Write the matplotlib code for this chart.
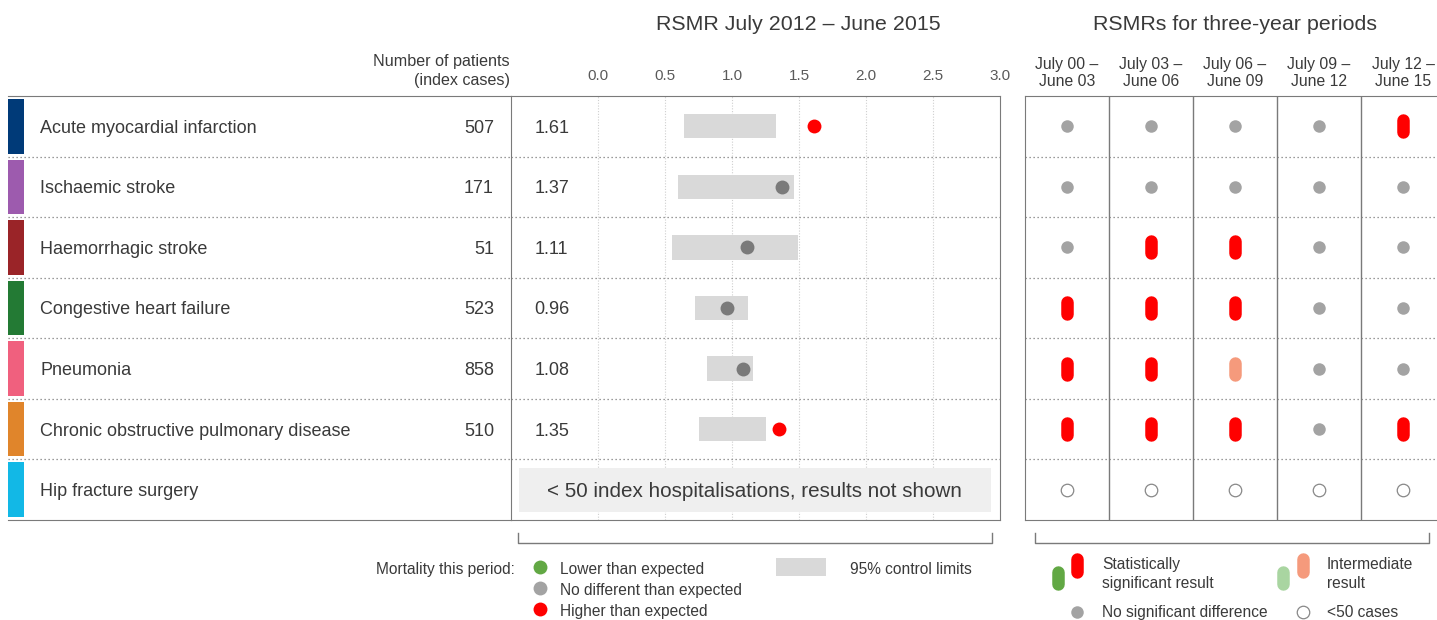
import numpy as np
import matplotlib.pyplot as plt

plt.rcParams['font.family'] = ['Liberation Sans', 'DejaVu Sans']

W, H = 1437, 620

conditions = ['Acute myocardial infarction', 'Ischaemic stroke', 'Haemorrhagic stroke',
              'Congestive heart failure', 'Pneumonia',
              'Chronic obstructive pulmonary disease', 'Hip fracture surgery']
cond_colors = ['#003a78', '#9d5bae', '#9a2428', '#237a34', '#f0607e', '#e0852b', '#12b8e6']
patients = [507, 171, 51, 523, 858, 510, None]
rsmr = [1.61, 1.37, 1.11, 0.96, 1.08, 1.35, None]
lower = [0.64, 0.60, 0.55, 0.72, 0.81, 0.75, None]
upper = [1.33, 1.46, 1.49, 1.12, 1.16, 1.25, None]
outcome = ['high', 'same', 'same', 'same', 'same', 'high', None]

ticks = [0.0, 0.5, 1.0, 1.5, 2.0, 2.5, 3.0]
periods = ['July 00 –\nJune 03', 'July 03 –\nJune 06', 'July 06 –\nJune 09',
           'July 09 –\nJune 12', 'July 12 –\nJune 15']
# n = no significant difference, H = significantly higher,
# h = intermediate higher, o = fewer than 50 cases
trend = [
    ['n', 'n', 'n', 'n', 'H'],
    ['n', 'n', 'n', 'n', 'n'],
    ['n', 'H', 'H', 'n', 'n'],
    ['H', 'H', 'H', 'n', 'n'],
    ['H', 'H', 'h', 'n', 'n'],
    ['H', 'H', 'H', 'n', 'H'],
    ['o', 'o', 'o', 'o', 'o'],
]

TXT = '#3a3a3a'
LINE = '#7a7a7a'
RED = '#ff0000'
GREEN = '#62a844'
SALMON = '#f59a7c'
LGREEN = '#a9d5a1'
DOT_GREY = '#a3a3a3'
MID_GREY = '#7a7a7a'
BAND = '#d9d9d9'

fig = plt.figure(figsize=(W / 100, H / 100), dpi=100)


def add_ax(x0, y0, x1, y1, **kw):
    return fig.add_axes([x0 / W, 1 - y1 / H, (x1 - x0) / W, (y1 - y0) / H], **kw)


nrow = len(conditions)
rows = np.arange(nrow) + 0.5
dotted = (0, (1, 2.2))
VA = 'center_baseline'

# background layer in pixel units for headings, brackets and legends
bg = add_ax(0, 0, W, H)
bg.set_xlim(0, W)
bg.set_ylim(H, 0)
bg.axis('off')
bg.set_zorder(-1)

# --- left table: colour keys, names, patient counts
axl = add_ax(8, 96, 511, 520)
axl.set_xlim(0, 503)
axl.set_ylim(nrow, 0)
axl.barh(rows, 16, left=0, height=0.9, color=cond_colors)
for i, name in enumerate(conditions):
    axl.text(32, rows[i], name, va=VA, ha='left', fontsize=13, color=TXT)
    if patients[i] is not None:
        axl.text(486, rows[i], str(patients[i]), va=VA, ha='right', fontsize=13, color=TXT)
for r in range(1, nrow):
    axl.axhline(r, color=LINE, lw=0.9, ls=dotted)
axl.set_xticks([])
axl.set_yticks([])
for s in ['left', 'right']:
    axl.spines[s].set_visible(False)
for s in ['top', 'bottom']:
    axl.spines[s].set_color(LINE)
axl.patch.set_visible(False)

# --- middle: RSMR with control limits
axm = add_ax(511, 96, 1000, 520)
axm.set_xlim(-0.65, 3.0)
axm.set_ylim(nrow, 0)
for t in ticks[:-1]:
    axm.axvline(t, color='#cfcfcf', lw=0.8, ls=(0, (1, 1.5)), zorder=0)
for r in range(1, nrow):
    axm.axhline(r, color=LINE, lw=0.9, ls=dotted, zorder=1)
for i in range(nrow):
    if rsmr[i] is None:
        continue
    axm.barh(rows[i], upper[i] - lower[i], left=lower[i], height=0.4, color=BAND, zorder=2)
    c = RED if outcome[i] == 'high' else MID_GREY
    axm.plot(rsmr[i], rows[i], 'o', ms=10, color=c, mec='none', zorder=3)
    axm.text(-0.475, rows[i], f'{rsmr[i]:.2f}', va=VA, ha='left', fontsize=13, color=TXT)
axm.barh(rows[6], 3.52, left=-0.59, height=0.72, color='#efefef', zorder=2)
axm.text(1.17, rows[6], '< 50 index hospitalisations, results not shown',
         va=VA, ha='center', fontsize=14.9, color=TXT, zorder=3)
axm.xaxis.tick_top()
axm.set_xticks(ticks)
axm.set_xticklabels([f'{t:.1f}' for t in ticks], fontsize=11, color='#5a5a5a')
axm.tick_params(axis='x', length=0, pad=9.7)
axm.set_yticks([])
for s in axm.spines.values():
    s.set_color(LINE)

# --- right: three-year period results
axr = add_ax(1025, 96, 1445, 520)
axr.set_xlim(0, 5)
axr.set_ylim(nrow, 0)
for c in range(1, 5):
    axr.axvline(c, color=LINE, lw=1)
for r in range(1, nrow):
    axr.axhline(r, color=LINE, lw=0.9, ls=dotted)
cols = np.arange(5) + 0.5
for i in range(nrow):
    for j, code in enumerate(trend[i]):
        x, y = cols[j], rows[i]
        if code == 'n':
            axr.plot(x, y, 'o', ms=9, color=DOT_GREY, mec='none')
        elif code == 'o':
            axr.plot(x, y, 'o', ms=9, mfc='white', mec='#888888', mew=0.9)
        else:
            colr = RED if code == 'H' else SALMON
            axr.plot([x, x], [y - 0.1, y + 0.1], color=colr, lw=9,
                     solid_capstyle='round')
axr.xaxis.tick_top()
axr.set_xticks(cols)
axr.set_xticklabels(periods, fontsize=11.3, color=TXT, linespacing=1.2)
axr.tick_params(axis='x', length=0, pad=5)
axr.set_yticks([])
for s in axr.spines.values():
    s.set_color(LINE)

# --- headings
bg.text(798, 24, 'RSMR July 2012 – June 2015', ha='center', va='center', fontsize=15.4, color=TXT)
bg.text(1235, 24, 'RSMRs for three-year periods', ha='center', va='center', fontsize=15.4, color=TXT)
bg.text(510, 71, 'Number of patients\n(index cases)', ha='right', va='center',
        fontsize=11.6, color=TXT, linespacing=1.3)

# --- brackets under the panels
bg.plot([518, 518, 992, 992], [533, 543, 543, 533], color=LINE, lw=1)
bg.plot([1035, 1035, 1429, 1429], [533, 543, 543, 533], color=LINE, lw=1)

# --- legend for the middle panel
FS = 11.2
bg.text(515, 568, 'Mortality this period:', ha='right', va=VA, fontsize=FS, color=TXT)
leg_items = [('Lower than expected', GREEN), ('No different than expected', DOT_GREY),
             ('Higher than expected', RED)]
for k, (lab, colr) in enumerate(leg_items):
    yy = 567 + 21 * k
    bg.plot(540, yy, 'o', ms=10, color=colr, mec='none')
    bg.text(560, yy + 1, lab, ha='left', va=VA, fontsize=FS, color=TXT)
bg.add_patch(plt.Rectangle((776, 558), 50, 18, color=BAND, lw=0))
bg.text(850, 568, '95% control limits', ha='left', va=VA, fontsize=FS, color=TXT)

# --- legend for the right panel
bg.plot([1058, 1058], [572, 584], color=GREEN, lw=9, solid_capstyle='round')
bg.plot([1077, 1077], [559, 572], color=RED, lw=9, solid_capstyle='round')
bg.text(1102, 574, 'Statistically\nsignificant result', ha='left', va='center',
        fontsize=FS, color=TXT, linespacing=1.3)
bg.plot([1283, 1283], [572, 584], color=LGREEN, lw=9, solid_capstyle='round')
bg.plot([1303, 1303], [559, 572], color=SALMON, lw=9, solid_capstyle='round')
bg.text(1327, 574, 'Intermediate\nresult', ha='left', va='center',
        fontsize=FS, color=TXT, linespacing=1.3)
bg.plot(1077, 612, 'o', ms=9, color=DOT_GREY, mec='none')
bg.text(1102, 611, 'No significant difference', ha='left', va=VA, fontsize=FS, color=TXT)
bg.plot(1303, 612, 'o', ms=9, mfc='white', mec='#888888', mew=0.9)
bg.text(1327, 611, '<50 cases', ha='left', va=VA, fontsize=FS, color=TXT)

fig.savefig('out.png', dpi=100)
